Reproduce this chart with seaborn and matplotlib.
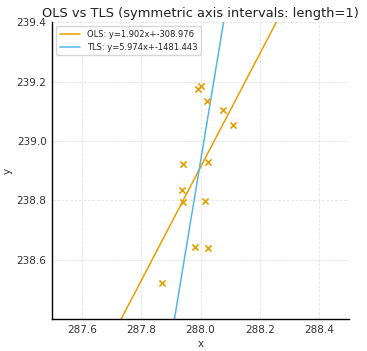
import numpy as np
import pandas as pd
import seaborn as sns
import matplotlib.pyplot as plt

# puntos
x_vals = [287.991, 288.001, 288.023, 288.075, 288.110, 287.942, 288.025,
          287.936, 287.941, 288.016, 287.982, 288.024, 287.871]
y_vals = [239.175, 239.185, 239.134, 239.104, 239.054, 238.924, 238.929,
          238.835, 238.795, 238.799, 238.644, 238.639, 238.524]
labels = ["OLS: y=1.902x+-308.976", "TLS: y=5.974x+-1481.443"]
colores = ["#E69F00", "#56B4E9"]

df = pd.DataFrame({"x": x_vals, "y": y_vals})
x = df["x"].to_numpy()
y = df["y"].to_numpy()

# OLS
m_ols, b_ols = np.polyfit(x, y, 1)
# TLS (componente principal)
xm, ym = x.mean(), y.mean()
_, _, vt = np.linalg.svd(np.column_stack([x - xm, y - ym]))
m_tls = vt[0, 1] / vt[0, 0]
b_tls = ym - m_tls * xm

sns.set_style("whitegrid")
plt.rcParams['font.family'] = ['DejaVu Sans']
fig = plt.figure(figsize=(3.67, 3.51), dpi=100)
ax = fig.add_axes([0.142, 0.09, 0.809, 0.847])

xx = np.linspace(287.5, 288.5, 200)
ax.plot(xx, m_ols * xx + b_ols, color=colores[0], lw=1.1, label=labels[0])
ax.plot(xx, m_tls * xx + b_tls, color=colores[1], lw=1.1, label=labels[1])
sns.scatterplot(data=df, x="x", y="y", ax=ax, marker="x", color=colores[0],
                s=20, linewidth=1.2, zorder=3)

ax.set_xlim(287.5, 288.5)
ax.set_ylim(238.4, 239.4)
ax.set_xticks([287.6, 287.8, 288.0, 288.2, 288.4])
ax.set_yticks([238.6, 238.8, 239.0, 239.2, 239.4])
ax.grid(True, linestyle="--", color="#e3e3e3", linewidth=0.6)
for s in ["top", "right"]:
    ax.spines[s].set_visible(False)
for s in ["left", "bottom"]:
    ax.spines[s].set_color("black")
    ax.spines[s].set_linewidth(1.0)
ax.tick_params(length=0, labelsize=7.5, colors="#333333", pad=4)
ax.set_xlabel("x", fontsize=7.5, color="#333333", labelpad=3)
ax.set_ylabel("y", fontsize=7.5, color="#333333", labelpad=3)
ax.set_title("OLS vs TLS (symmetric axis intervals: length=1)", fontsize=9.4, pad=4, color="#222222")
ax.legend(loc="upper left", fontsize=6, frameon=True, handlelength=2.5)
plt.savefig("out.png", dpi=100)
